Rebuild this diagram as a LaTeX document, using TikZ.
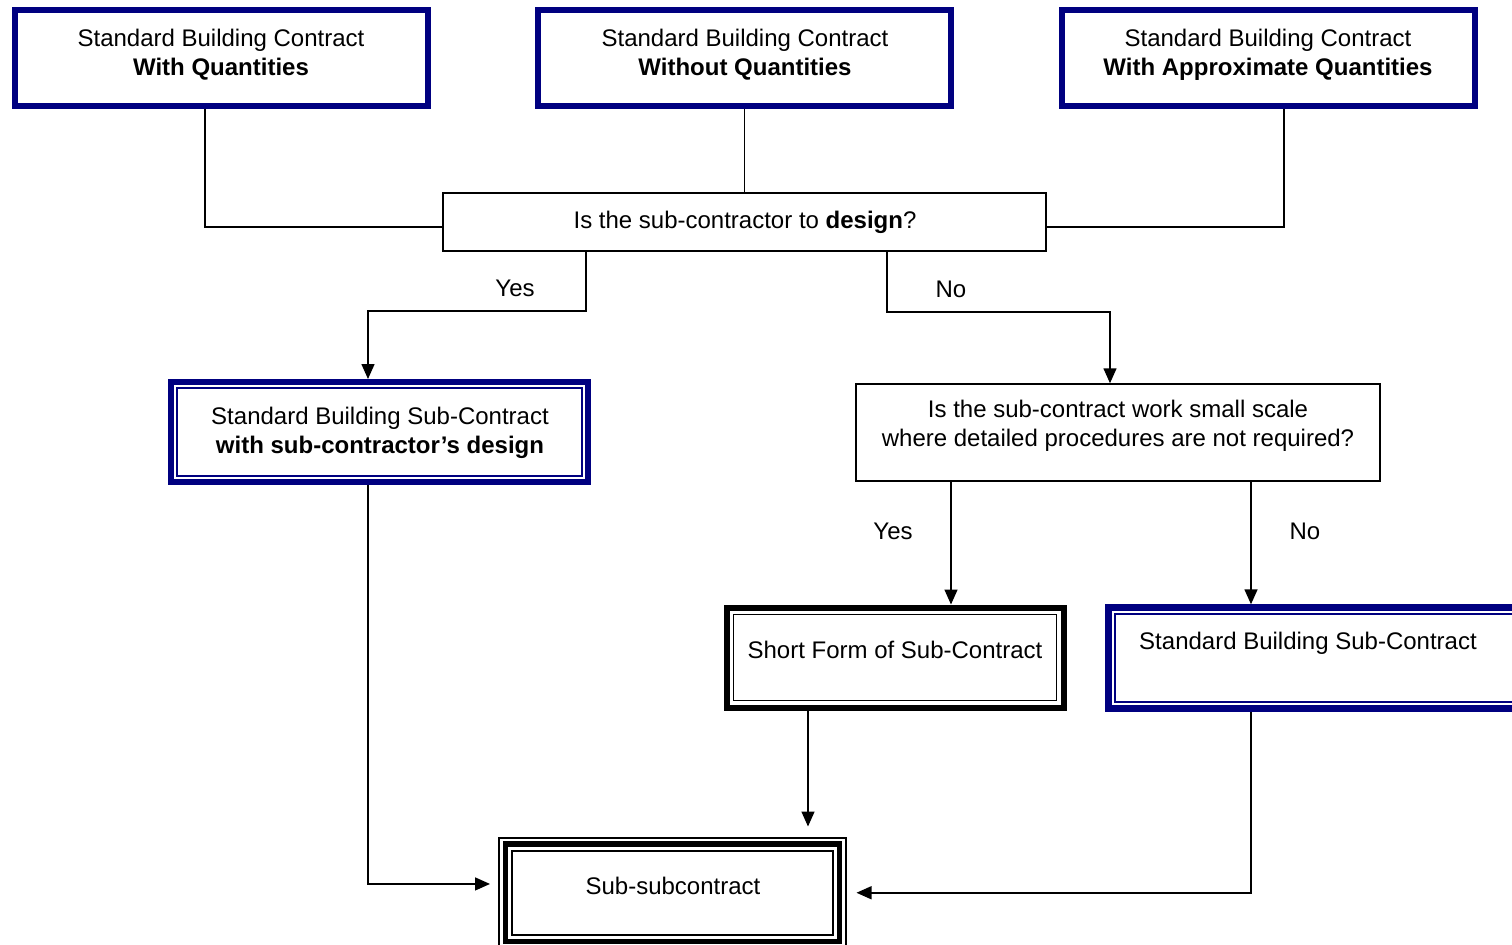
\documentclass[tikz,border=0pt]{standalone}
\usepackage{fontspec}
\setmainfont{Liberation Sans}
\usetikzlibrary{arrows.meta}
\definecolor{navy}{RGB}{0,0,128}

\begin{document}
\begin{tikzpicture}[x=0.5pt,y=-0.5pt]
\tikzstyle{every node}+=[inner sep=0pt,font=\fontsize{12}{14.5}\selectfont]
\tikzstyle{topbox}=[draw=navy,line width=3pt,minimum width=206.5pt,minimum height=48pt]
\tikzstyle{qbox}=[draw=black,line width=0.75pt]
\tikzstyle{txt}=[align=center]
\tikzstyle{conn}=[draw=black,line width=0.75pt]
\tikzstyle{arr}=[conn,-{Triangle[length=7.5pt,width=6.5pt]}]
\path[use as bounding box,clip] (0,0) rectangle (1512,944);
\node [topbox] (wq) at (221.5,57.5) {};
\node [txt] (wq-t) at (221,54.5) {Standard Building Contract\\\textbf{With Quantities}};
\node [topbox] (woq) at (744.5,57.5) {};
\node [txt] (woq-t) at (745,54.5) {Standard Building Contract\\\textbf{Without Quantities}};
\node [topbox] (waq) at (1268.5,57.5) {};
\node [txt] (waq-t) at (1268,54.5) {Standard Building Contract\\\textbf{With Approximate Quantities}};
\node [qbox,minimum width=301.5pt,minimum height=29pt] (design) at (744.5,222) {};
\node [txt] (design-t) at (745,222) {Is the sub-contractor to \textbf{design}?};
\node [draw=navy,line width=3pt,minimum width=208.5pt,minimum height=50pt] (sbscd) at (379.5,432) {};
\draw [navy,line width=0.8pt] ([shift={(4.4pt,-4.4pt)}]sbscd.north west) rectangle ([shift={(-4.4pt,4.4pt)}]sbscd.south east);
\node [txt] (sbscd-t) at (380,432.5) {Standard Building Sub-Contract\\\textbf{with sub-contractor’s design}};
\node [qbox,minimum width=262pt,minimum height=48.5pt] (small) at (1118,432.5) {};
\node [txt] (small-t) at (1118,426) {Is the sub-contract work small scale\\where detailed procedures are not required?};
\node [draw=black,line width=3pt,minimum width=168.5pt,minimum height=50pt] (sform) at (895,657.5) {};
\draw [black,line width=0.9pt] ([shift={(5pt,-5pt)}]sform.north west) rectangle ([shift={(-5pt,5pt)}]sform.south east);
\node [txt] (sform-t) at (895,650) {Short Form of Sub-Contract};
\node [draw=navy,line width=3.2pt,minimum width=210.75pt,minimum height=50.5pt] (sbsc) at (1319.25,658) {};
\draw [navy,line width=0.9pt] ([shift={(4.7pt,-4.7pt)}]sbsc.north west) rectangle ([shift={(-4.7pt,4.7pt)}]sbsc.south east);
\node [txt] (sbsc-t) at (1308,643) {Standard Building Sub-Contract};
\node [draw=black,line width=1pt,minimum width=173.5pt,minimum height=55.25pt] (subsub) at (672.5,892.75) {};
\draw [black,line width=2.8pt] ([shift={(3.75pt,-3.75pt)}]subsub.north west) rectangle ([shift={(-3.75pt,3.75pt)}]subsub.south east);
\draw [black,line width=1pt] ([shift={(7pt,-7pt)}]subsub.north west) rectangle ([shift={(-7pt,7pt)}]subsub.south east);
\node [txt] (subsub-t) at (673,886) {Sub-subcontract};
\draw [conn] ([xshift=-8.25pt]wq.south) |- ([yshift=-2.5pt]design.west);
\draw [conn] (woq.south) -- (design.north);
\draw [conn] ([xshift=7.75pt]waq.south) |- ([yshift=-2.5pt]design.east);
\draw [arr] ([xshift=-79.25pt]design.south) -- ++(0,59) -| ([xshift=-5.75pt]sbscd.north);
\node (yes1) at (515,288) {Yes};
\draw [arr] ([xshift=71.25pt]design.south) -- ++(0,60) -| ([xshift=-4pt]small.north);
\node (no1) at (951,289) {No};
\draw [arr] ([xshift=-83.5pt]small.south) -- ([xshift=-83.5pt]small.south |- sform.north);
\node (yes2) at (893,531) {Yes};
\draw [arr] ([xshift=66.5pt]small.south) -- ([xshift=66.5pt]small.south |- sbsc.north);
\node (no2) at (1305,531) {No};
\draw [arr,shorten >=4pt] ([xshift=-5.75pt]sbscd.south) |- ([yshift=4.4pt]subsub.west);
\draw [arr,shorten >=5pt] ([xshift=-43.5pt]sform.south) -- ([xshift=-43.5pt]sform.south |- subsub.north);
\draw [arr,shorten >=4.75pt] ([xshift=-34.125pt]sbsc.south) |- (subsub.east);
\end{tikzpicture}
\end{document}
